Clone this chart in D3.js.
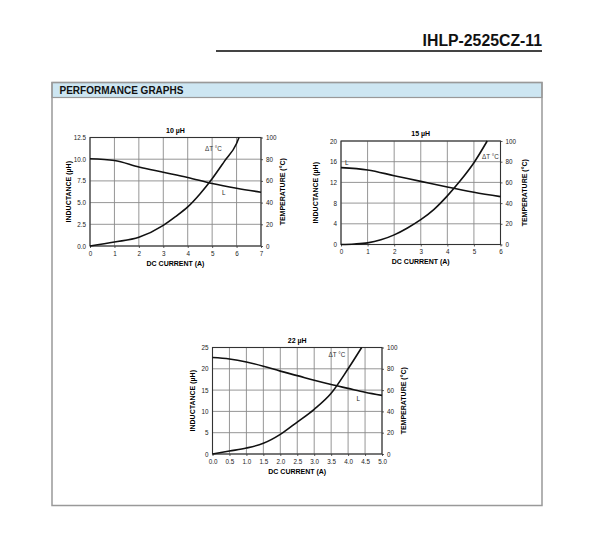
<!DOCTYPE html>
<html>
<head>
<meta charset="utf-8">
<script src="https://cdn.jsdelivr.net/npm/d3@7"></script>
<style>
  body { margin: 0; background: #fff; }
  svg { font-family: "Liberation Sans", Arial, Helvetica, sans-serif; }
</style>
</head>
<body>
<div id="chart"></div>
<script>
// page text
const partNumber = 'IHLP-2525CZ-11';
const sectionTitle = 'PERFORMANCE GRAPHS';

// 10 uH graph
const current10 = [0, 1, 2, 3, 4, 5, 6, 7];
const inductance10 = [10.05, 9.85, 9.1, 8.5, 7.9, 7.2, 6.65, 6.2];
const tempCurrent10 = [0, 1, 2, 3, 3.5, 4, 4.5, 5, 5.5, 6, 6.1];
const temp10 = [0, 3.7, 8, 19, 27, 36, 48, 62, 78, 94.5, 100];
const xTicks10 = [0, 1, 2, 3, 4, 5, 6, 7];
const yTicks10 = [0, 2.5, 5, 7.5, 10, 12.5];

// 15 uH graph
const current15 = [0, 1, 2, 3, 4, 5, 6];
const inductance15 = [14.85, 14.4, 13.3, 12.2, 11.1, 10.1, 9.25];
const tempCurrent15 = [0, 0.5, 1, 1.5, 2, 2.5, 3, 3.5, 4, 4.5, 5, 5.5];
const temp15 = [0, 0.5, 1.6, 4.5, 9.3, 16, 24, 34, 47, 62, 79, 100];
const xTicks15 = [0, 1, 2, 3, 4, 5, 6];
const yTicks15 = [0, 4, 8, 12, 16, 20];

// 22 uH graph
const current22 = [0, 0.5, 1, 1.5, 2, 2.5, 3, 3.5, 4, 4.5, 5];
const inductance22 = [22.65, 22.3, 21.6, 20.6, 19.45, 18.4, 17.3, 16.3, 15.4, 14.5, 13.75];
const tempCurrent22 = [0, 0.5, 1, 1.5, 2, 2.5, 3, 3.5, 4, 4.4];
const temp22 = [0, 2.8, 5.6, 10, 18.4, 30, 42, 57, 80, 100];
const xTicks22 = [0, 0.5, 1, 1.5, 2, 2.5, 3, 3.5, 4, 4.5, 5];
const yTicks22 = [0, 5, 10, 15, 20, 25];

// right axis (temperature) shared
const tempTicks = [0, 20, 40, 60, 80, 100];

const svg = d3.select('#chart')
    .append('svg')
    .attr('width', 595)
    .attr('height', 558);

// header
svg.append('text')
    .attr('x', 542)
    .attr('y', 46)
    .attr('text-anchor', 'end')
    .attr('font-size', 15.8)
    .attr('font-weight', 'bold')
    .attr('fill', '#111')
    .text(partNumber);

svg.append('line')
    .attr('x1', 216).attr('x2', 542)
    .attr('y1', 51).attr('y2', 51)
    .attr('stroke', '#444')
    .attr('stroke-width', 2);

// section box
svg.append('rect')
    .attr('x', 52).attr('y', 82.5)
    .attr('width', 490).attr('height', 15)
    .attr('fill', '#cde6f2')
    .attr('stroke', '#999')
    .attr('stroke-width', 1.2);

svg.append('rect')
    .attr('x', 52).attr('y', 82.5)
    .attr('width', 490).attr('height', 423)
    .attr('fill', 'none')
    .attr('stroke', '#999')
    .attr('stroke-width', 1.5);

svg.append('text')
    .attr('x', 59.5)
    .attr('y', 93.8)
    .attr('font-size', 10)
    .attr('font-weight', 'bold')
    .attr('fill', '#111')
    .text(sectionTitle);

function DrawGraph(cfg) {
    const g = svg.append('g').attr('transform', 'translate(' + cfg.left + ',' + cfg.top + ')');
    const w = cfg.width, h = cfg.height;

    const x = d3.scaleLinear().domain(cfg.xDomain).range([0, w]);
    const yL = d3.scaleLinear().domain(cfg.yDomain).range([h, 0]);
    const yT = d3.scaleLinear().domain([0, 100]).range([h, 0]);

    // grid
    g.append('g')
        .selectAll('line')
        .data(cfg.xTicks)
        .join('line')
        .attr('x1', d => x(d)).attr('x2', d => x(d))
        .attr('y1', 0).attr('y2', h)
        .attr('stroke', '#8a8a8a')
        .attr('stroke-width', 0.9);

    g.append('g')
        .selectAll('line')
        .data(cfg.yTicks)
        .join('line')
        .attr('x1', 0).attr('x2', w)
        .attr('y1', d => yL(d)).attr('y2', d => yL(d))
        .attr('stroke', '#8a8a8a')
        .attr('stroke-width', 0.9);

    // axes
    const bottomAxis = g.append('g')
        .attr('transform', 'translate(0,' + h + ')')
        .call(d3.axisBottom(x).tickValues(cfg.xTicks).tickSize(2).tickPadding(3.5).tickFormat(cfg.xFormat));
    const leftAxis = g.append('g')
        .call(d3.axisLeft(yL).tickValues(cfg.yTicks).tickSize(0).tickPadding(4).tickFormat(cfg.yFormat));
    const rightAxis = g.append('g')
        .attr('transform', 'translate(' + w + ',0)')
        .call(d3.axisRight(yT).tickValues(tempTicks).tickSize(2).tickPadding(3).tickFormat(d3.format('d')));

    [bottomAxis, leftAxis, rightAxis].forEach(function (a) {
        a.select('.domain').remove();
        a.selectAll('line').attr('stroke', '#333').attr('stroke-width', 0.8);
        a.selectAll('text')
            .attr('font-size', 6.3)
            .attr('fill', '#222')
            .attr('font-family', '"Liberation Sans", Arial, sans-serif');
    });

    // frame
    g.append('rect')
        .attr('width', w).attr('height', h)
        .attr('fill', 'none')
        .attr('stroke', '#333')
        .attr('stroke-width', 1.1);

    // curves
    const lineL = d3.line()
        .curve(d3.curveMonotoneX)
        .x(d => x(d[0]))
        .y(d => yL(d[1]));
    const lineT = d3.line()
        .curve(d3.curveMonotoneX)
        .x(d => x(d[0]))
        .y(d => yT(d[1]));

    g.append('path')
        .datum(d3.zip(cfg.current, cfg.inductance))
        .attr('fill', 'none')
        .attr('stroke', '#111')
        .attr('stroke-width', 1.6)
        .attr('d', lineL);

    g.append('path')
        .datum(d3.zip(cfg.tempCurrent, cfg.temp))
        .attr('fill', 'none')
        .attr('stroke', '#111')
        .attr('stroke-width', 1.6)
        .attr('d', lineT);

    // curve labels
    g.append('text')
        .attr('x', cfg.dtLabel[0]).attr('y', cfg.dtLabel[1])
        .attr('font-size', 6.3)
        .attr('fill', '#333')
        .text('\u0394T \u00b0C');
    g.append('text')
        .attr('x', cfg.lLabel[0]).attr('y', cfg.lLabel[1])
        .attr('font-size', 6.3)
        .attr('fill', '#222')
        .text('L');

    // titles
    g.append('text')
        .attr('x', w / 2).attr('y', -5)
        .attr('text-anchor', 'middle')
        .attr('font-size', 7)
        .attr('font-weight', 'bold')
        .text(cfg.title);

    g.append('text')
        .attr('x', w / 2).attr('y', h + 19.5)
        .attr('text-anchor', 'middle')
        .attr('font-size', 7)
        .attr('font-weight', 'bold')
        .text('DC CURRENT (A)');

    g.append('text')
        .attr('transform', 'translate(' + (-cfg.leftTitle) + ',' + (h / 2) + ') rotate(-90)')
        .attr('text-anchor', 'middle')
        .attr('font-size', 7)
        .attr('font-weight', 'bold')
        .text('INDUCTANCE (\u00b5H)');

    g.append('text')
        .attr('transform', 'translate(' + (w + cfg.rightTitle) + ',' + (h / 2) + ') rotate(-90)')
        .attr('text-anchor', 'middle')
        .attr('font-size', 7)
        .attr('font-weight', 'bold')
        .text('TEMPERATURE (\u00b0C)');
}

DrawGraph({
    left: 90, top: 137.5, width: 171, height: 108.5,
    xDomain: [0, 7], yDomain: [0, 12.5],
    xTicks: xTicks10, yTicks: yTicks10,
    xFormat: d3.format('d'), yFormat: d3.format('.1f'),
    current: current10, inductance: inductance10,
    tempCurrent: tempCurrent10, temp: temp10,
    dtLabel: [115, 13], lLabel: [132, 57],
    leftTitle: 19.5, rightTitle: 24,
    title: '10 \u00b5H'
});

DrawGraph({
    left: 341, top: 141, width: 159.5, height: 103.5,
    xDomain: [0, 6], yDomain: [0, 20],
    xTicks: xTicks15, yTicks: yTicks15,
    xFormat: d3.format('d'), yFormat: d3.format('d'),
    current: current15, inductance: inductance15,
    tempCurrent: tempCurrent15, temp: temp15,
    dtLabel: [141, 17.5], lLabel: [4, 23.5],
    leftTitle: 23.5, rightTitle: 26,
    title: '15 \u00b5H'
});

DrawGraph({
    left: 212.5, top: 347.5, width: 169.5, height: 106.5,
    xDomain: [0, 5], yDomain: [0, 25],
    xTicks: xTicks22, yTicks: yTicks22,
    xFormat: d3.format('.1f'), yFormat: d3.format('d'),
    current: current22, inductance: inductance22,
    tempCurrent: tempCurrent22, temp: temp22,
    dtLabel: [116, 9.5], lLabel: [144, 53],
    leftTitle: 17.5, rightTitle: 24,
    title: '22 \u00b5H'
});
</script>
</body>
</html>
